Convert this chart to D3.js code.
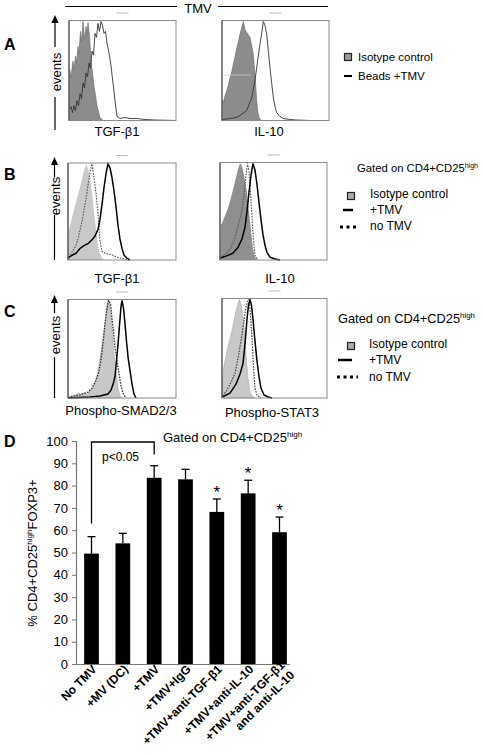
<!DOCTYPE html>
<html><head><meta charset="utf-8">
<script src="https://cdn.jsdelivr.net/npm/d3@7/dist/d3.min.js"></script>
<style>body{margin:0;background:#fff}svg{display:block}text{font-family:"Liberation Sans",Arial,sans-serif}</style>
</head><body>
<svg id="fig" width="484" height="755"></svg>
<script>
// ---------- Histogram data (channel 0..1000, % of max) ----------
const aTgfIso = [[0,0],[5,52],[19,44],[37,60],[47,52],[61,65],[70,58],[84,75],[93,68],[107,90],[117,80],[131,100],[145,82],[159,95],[168,88],[178,99],[192,85],[206,60],[234,35],[262,15],[290,3],[318,0]];
const aTgfTmv = [[0,10],[19,14],[33,8],[47,15],[61,10],[75,20],[89,15],[103,27],[117,22],[131,38],[145,33],[159,48],[173,44],[187,58],[201,53],[215,70],[229,66],[243,88],[257,84],[271,98],[285,90],[299,100],[313,96],[327,88],[341,90],[355,78],[374,68],[393,55],[411,38],[430,20],[449,4],[477,2],[523,3],[570,2],[636,2],[710,1],[804,0.5],[1000,0]];
const aIlIso = [[0,0],[5,20],[12,18],[28,25],[44,30],[61,36],[75,43],[93,50],[106,57],[121,64],[137,73],[154,80],[168,87],[182,93],[199,100],[215,92],[231,89],[248,86],[262,84],[278,75],[293,67],[308,47],[324,20],[336,8],[346,3],[368,0]];
const aIlTmv = [[0,1],[75,2],[131,3],[168,5],[206,8],[231,10],[252,16],[278,23],[293,32],[308,40],[324,53],[339,65],[355,77],[371,88],[386,100],[402,96],[418,87],[433,70],[449,53],[464,38],[480,23],[495,14],[511,8],[542,4],[573,2],[636,1],[698,0.5],[822,0]];

const bTgfIso = [[0,0],[5,30],[19,36],[46,48],[74,60],[102,72],[130,84],[148,93],[167,100],[185,95],[204,85],[222,70],[241,50],[259,32],[278,14],[296,6],[315,2],[343,0]];
const bTgfNo  = [[0,3],[37,8],[74,15],[93,22],[111,31],[130,40],[148,52],[167,64],[185,78],[204,92],[222,100],[241,86],[259,70],[278,48],[296,20],[315,9],[343,7],[389,6],[435,4],[481,2],[574,0]];
const bTgfTmv = [[0,2],[37,5],[74,7],[111,12],[148,15],[185,17],[222,21],[250,25],[278,32],[296,42],[315,58],[333,75],[352,90],[370,100],[389,96],[407,86],[426,72],[444,56],[463,36],[481,22],[500,12],[519,5],[546,2],[574,0]];
const bIlIso  = [[0,0],[5,36],[19,38],[47,46],[75,54],[103,65],[131,77],[159,90],[182,99],[196,100],[215,93],[234,82],[252,70],[271,50],[290,30],[308,12],[327,3],[346,0]];
const bIlNo   = [[0,2],[47,6],[93,11],[131,20],[168,35],[203,50],[224,68],[243,88],[257,100],[271,92],[285,70],[299,45],[313,20],[327,5],[355,0]];
const bIlTmv  = [[0,2],[56,4],[121,7],[168,13],[206,22],[234,34],[252,50],[271,70],[290,88],[308,100],[327,93],[346,78],[364,60],[383,42],[402,26],[421,15],[439,8],[467,3],[514,1],[561,0]];

const cSmadIso = [[0,0],[37,2],[65,3],[93,5],[120,4],[148,5],[176,4],[204,7],[222,10],[241,13],[259,19],[278,28],[296,40],[315,55],[333,69],[347,82],[361,96],[370,100],[384,97],[398,85],[412,67],[426,45],[444,29],[463,10],[481,2],[500,0]];
const cSmadNo  = [[0,1],[111,3],[185,6],[222,10],[259,18],[287,27],[306,40],[324,56],[343,76],[359,90],[377,100],[394,96],[407,82],[421,68],[435,52],[454,38],[472,25],[491,12],[509,5],[537,0]];
const cSmadTmv = [[0,0],[204,1],[296,2],[370,4],[398,8],[417,14],[435,22],[449,38],[463,55],[477,75],[491,94],[500,100],[514,92],[528,76],[542,58],[556,42],[574,28],[593,14],[611,4],[630,0]];
const cStatIso = [[0,0],[5,20],[19,33],[38,43],[57,52],[76,60],[95,68],[114,78],[133,88],[152,96],[167,100],[186,93],[205,78],[219,58],[233,38],[248,20],[267,6],[286,2],[314,0]];
const cStatNo  = [[0,3],[38,6],[67,12],[95,18],[124,25],[152,40],[181,58],[205,75],[224,90],[243,98],[257,100],[271,85],[286,60],[300,32],[314,10],[333,3],[371,0]];
const cStatTmv = [[0,1],[76,5],[133,14],[171,24],[200,35],[219,55],[238,80],[252,94],[267,100],[281,94],[295,80],[314,58],[333,38],[352,22],[371,10],[400,3],[438,1],[476,0]];

// ---------- Bar chart data (panel D) ----------
const dCategories = ["No TMV","+MV (DC)","+TMV","+TMV+IgG","+TMV+anti-TGF-β1","+TMV+anti-IL-10","+TMV+anti-TGF-β1|and anti-IL-10"];
const dValues = [49.5, 54.1, 83.5, 82.8, 68.2, 76.5, 59.1];
const dErrors = [7.6, 4.5, 5.4, 4.5, 5.8, 5.9, 6.8];
const dStars  = [false,false,false,false,true,true,true];
const dTicks  = [0,10,20,30,40,50,60,70,80,90,100];

const svg = d3.select("#fig");
const FONT = '"Liberation Sans",Arial,sans-serif';

// ---------- helpers ----------
function histPanel(box, curves){
  const g = svg.append("g");
  const x = d3.scaleLinear().domain([0,1000]).range([box.x0, box.x1]);
  const y = d3.scaleLinear().domain([0,100]).range([box.y1, box.y0+1]);
  const area = d3.area().x(d=>x(d[0])).y0(y(0)).y1(d=>y(d[1]));
  const line = d3.line().x(d=>x(d[0])).y(d=>y(d[1]));
  curves.forEach(c=>{
    if(c.fill){
      g.append("path").datum(c.data).attr("d",area).attr("fill",c.fill).attr("stroke",c.stroke||"none").attr("stroke-width",c.sw||0.6);
    } else {
      g.append("path").datum(c.data).attr("d",line).attr("fill","none").attr("stroke",c.stroke).attr("stroke-width",c.sw).attr("stroke-dasharray",c.dash||null);
    }
  });
  g.append("rect").attr("x",box.x0).attr("y",box.y0).attr("width",box.x1-box.x0).attr("height",box.y1-box.y0)
    .attr("fill","none").attr("stroke","#8a8a8a").attr("stroke-width",1);
  g.append("line").attr("x1",box.x0).attr("x2",box.x0).attr("y1",box.y0).attr("y2",box.y1).attr("stroke","#555").attr("stroke-width",1.2);
  g.append("rect").attr("x",(box.x0+box.x1)/2-6).attr("y",box.y0-8).attr("width",12).attr("height",1).attr("fill","#bbb");
  return g;
}
function eventsArrow(xc, tip, upEnd, textC, lowStart, lowEnd){
  svg.append("line").attr("x1",xc).attr("x2",xc).attr("y1",tip+6).attr("y2",upEnd).attr("stroke","#000").attr("stroke-width",1.2);
  svg.append("path").attr("d",`M${xc},${tip} L${xc-3.5},${tip+8} L${xc+3.5},${tip+8} Z`).attr("fill","#000");
  svg.append("text").attr("transform",`translate(${xc+5.5},${textC}) rotate(-90)`).attr("text-anchor","middle")
    .attr("font-size",13).text("events");
  svg.append("line").attr("x1",xc).attr("x2",xc).attr("y1",lowStart).attr("y2",lowEnd).attr("stroke","#000").attr("stroke-width",1.2);
}
function label(txt,x,y){ svg.append("text").attr("x",x).attr("y",y).attr("font-size",16).attr("font-weight","bold").text(txt); }
function ctext(txt,x,y,size){ svg.append("text").attr("x",x).attr("y",y).attr("text-anchor","middle").attr("font-size",size||13).text(txt); }
function gated(x,y,size){
  const t = svg.append("text").attr("x",x).attr("y",y).attr("font-size",size);
  t.append("tspan").text("Gated on CD4+CD25");
  t.append("tspan").attr("font-size",size*0.62).attr("dy",-size*0.38).text("high");
}

// ---------- Panel A ----------
svg.append("line").attr("x1",65).attr("x2",177).attr("y1",6.5).attr("y2",6.5).attr("stroke","#000").attr("stroke-width",1.2);
svg.append("line").attr("x1",218).attr("x2",328).attr("y1",6.5).attr("y2",6.5).attr("stroke","#000").attr("stroke-width",1.2);
ctext("TMV",198,12.5,13);
label("A",4,50);
eventsArrow(55,15,47,72,97,130);
histPanel({x0:69,x1:176,y0:20.5,y1:120.5},[
  {data:aTgfIso, fill:"#8c8c8c", stroke:"#666"},
  {data:aTgfTmv, stroke:"#333", sw:0.9}
]);
histPanel({x0:222,x1:329,y0:20.5,y1:120.5},[
  {data:aIlIso, fill:"#8c8c8c", stroke:"#666"},
  {data:aIlTmv, stroke:"#333", sw:0.9}
]);
svg.append("line").attr("x1",222.5).attr("x2",251).attr("y1",75).attr("y2",75).attr("stroke","#cfcfcf").attr("stroke-width",0.8);
ctext("TGF-β1",117,136);
ctext("IL-10",269,136);
svg.append("rect").attr("x",344.5).attr("y",53.5).attr("width",7).attr("height",7).attr("fill","#999").attr("stroke","#222").attr("stroke-width",1.2);
svg.append("text").attr("x",358).attr("y",61).attr("font-size",11.5).text("Isotype control");
svg.append("line").attr("x1",344).attr("x2",352).attr("y1",76).attr("y2",76).attr("stroke","#000").attr("stroke-width",2);
svg.append("text").attr("x",358).attr("y",80).attr("font-size",11.5).text("Beads +TMV");

// ---------- Panel B ----------
label("B",4,180);
eventsArrow(54.5,157,177,196,215,260);
histPanel({x0:68,x1:176,y0:163,y1:260},[
  {data:bTgfIso, fill:"#c9c9c9"},
  {data:bTgfNo, stroke:"#555", sw:1.1, dash:"1.6,1.2"},
  {data:bTgfTmv, stroke:"#000", sw:1.5}
]);
histPanel({x0:220,x1:327,y0:162.5,y1:260},[
  {data:bIlIso, fill:"#8f8f8f"},
  {data:bIlNo, stroke:"#555", sw:1.1, dash:"1.6,1.2"},
  {data:bIlTmv, stroke:"#000", sw:1.5}
]);
ctext("TGF-β1",117,283);
ctext("IL-10",280,283);
gated(357,172,11.3);
svg.append("rect").attr("x",347.5).attr("y",192.5).attr("width",7).attr("height",7).attr("fill","#aaa").attr("stroke","#222").attr("stroke-width",1.2);
svg.append("text").attr("x",370).attr("y",198).attr("font-size",12).text("Isotype control");
svg.append("line").attr("x1",343).attr("x2",353).attr("y1",210).attr("y2",210).attr("stroke","#000").attr("stroke-width",2.5);
svg.append("text").attr("x",370).attr("y",214).attr("font-size",12).text("+TMV");
svg.append("line").attr("x1",340).attr("x2",356).attr("y1",227).attr("y2",227).attr("stroke","#000").attr("stroke-width",3).attr("stroke-dasharray","3,3.5");
svg.append("text").attr("x",370).attr("y",230).attr("font-size",12).text("no TMV");

// ---------- Panel C ----------
label("C",4,317);
eventsArrow(54.5,295,313,335,357,398);
histPanel({x0:68,x1:176,y0:299.5,y1:398},[
  {data:cSmadIso, fill:"#c8c8c8", stroke:"#aaa"},
  {data:cSmadNo, stroke:"#333", sw:1.3, dash:"1.6,1.2"},
  {data:cSmadTmv, stroke:"#000", sw:1.5}
]);
histPanel({x0:222,x1:327,y0:298.5,y1:398},[
  {data:cStatIso, fill:"#c8c8c8", stroke:"#aaa"},
  {data:cStatNo, stroke:"#444", sw:1.2, dash:"1.6,1.2"},
  {data:cStatTmv, stroke:"#000", sw:1.5}
]);
ctext("Phospho-SMAD2/3",121,415);
ctext("Phospho-STAT3",272,417);
gated(338,323,12.8);
svg.append("rect").attr("x",347.5).attr("y",342.5).attr("width",7).attr("height",7).attr("fill","#aaa").attr("stroke","#222").attr("stroke-width",1.2);
svg.append("text").attr("x",369).attr("y",348).attr("font-size",12).text("Isotype control");
svg.append("line").attr("x1",338).attr("x2",352).attr("y1",360).attr("y2",360).attr("stroke","#000").attr("stroke-width",2.5);
svg.append("text").attr("x",369).attr("y",364).attr("font-size",12).text("+TMV");
svg.append("line").attr("x1",337).attr("x2",358).attr("y1",377).attr("y2",377).attr("stroke","#000").attr("stroke-width",3).attr("stroke-dasharray","3,3.5");
svg.append("text").attr("x",369).attr("y",381).attr("font-size",12).text("no TMV");

// ---------- Panel D ----------
label("D",4,447);
const dx = d3.scaleBand().domain(dCategories).range([76,295]).paddingInner(0.53).paddingOuter(0.26);
const dy = d3.scaleLinear().domain([0,100]).range([664,441]);
const gD = svg.append("g");
const yAxis = gD.append("g").attr("transform","translate(76,0)")
  .call(d3.axisLeft(dy).tickValues(dTicks).tickSize(4).tickPadding(4));
yAxis.select(".domain").attr("stroke","#777").attr("stroke-width",1.2);
yAxis.selectAll(".tick line").attr("stroke","#777");
yAxis.selectAll("text").attr("font-size",13).attr("font-family",FONT).attr("fill","#000");
gD.append("line").attr("x1",76).attr("x2",290).attr("y1",664.5).attr("y2",664.5).attr("stroke","#777").attr("stroke-width",1.2);
const bw = dx.bandwidth();
dCategories.forEach((c,i)=>{
  const cx = dx(c)+bw/2;
  gD.append("rect").attr("x",dx(c)).attr("y",dy(dValues[i])).attr("width",bw).attr("height",dy(0)-dy(dValues[i])).attr("fill","#000");
  const top = dy(dValues[i]+dErrors[i]);
  gD.append("line").attr("x1",cx).attr("x2",cx).attr("y1",dy(dValues[i])).attr("y2",top).attr("stroke","#000").attr("stroke-width",1.3);
  gD.append("line").attr("x1",cx-4).attr("x2",cx+4).attr("y1",top).attr("y2",top).attr("stroke","#000").attr("stroke-width",1.3);
  if(dStars[i]) gD.append("text").attr("x",cx).attr("y",top-1).attr("text-anchor","middle").attr("font-size",17).text("*");
  const parts = c.split("|");
  const t = gD.append("text").attr("transform",`translate(${cx+6},${parts.length>1?666:670}) rotate(-45)`)
    .attr("text-anchor","end").attr("font-size",12).attr("font-weight","bold");
  parts.forEach((p,k)=> t.append("tspan").attr("x",0).attr("dy",k?"1.15em":0).text(p));
});
const bx1 = dx(dCategories[0])+bw/2, bx2 = dx(dCategories[2])+bw/2;
gD.append("path").attr("d",`M${bx1},${dy(63)} V${dy(100)+1} H${bx2} V${dy(94)}`).attr("fill","none").attr("stroke","#000").attr("stroke-width",1.3);
gD.append("text").attr("x",102).attr("y",461).attr("font-size",12).text("p<0.05");
gated(163,442,13);
const yt = gD.append("text").attr("transform","translate(37,553) rotate(-90)").attr("text-anchor","middle").attr("font-size",13);
yt.append("tspan").text("% CD4+CD25");
yt.append("tspan").attr("font-size",8).attr("dy",-5).text("high");
yt.append("tspan").attr("dy",5).text("FOXP3+");
</script>
</body></html>
